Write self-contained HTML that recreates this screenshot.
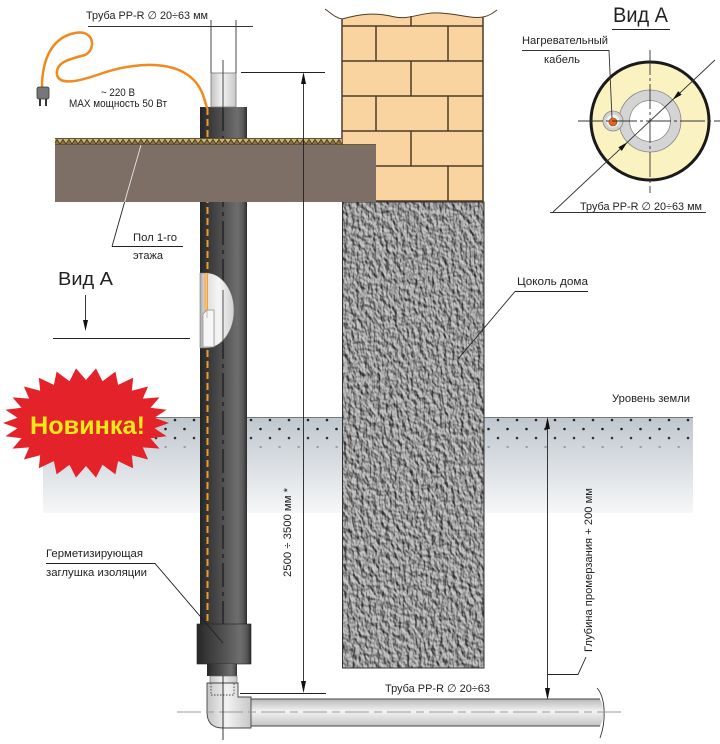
<!DOCTYPE html>
<html><head><meta charset="utf-8"><style>
html,body{margin:0;padding:0;background:#fff;}
svg{display:block;}
text{font-family:"Liberation Sans","DejaVu Sans",sans-serif;fill:#222;}
</style></head><body>
<svg width="720" height="744" viewBox="0 0 720 744" xmlns="http://www.w3.org/2000/svg">
<defs>
<linearGradient id="gnd" x1="0" y1="417" x2="0" y2="513" gradientUnits="userSpaceOnUse">
<stop offset="0" stop-color="#bfc7ce"/><stop offset="0.55" stop-color="#dde1e5"/><stop offset="1" stop-color="#f6f7f8"/>
</linearGradient>
<linearGradient id="pg" x1="0" y1="0" x2="1" y2="0">
<stop offset="0" stop-color="#262626"/><stop offset="0.18" stop-color="#383838"/><stop offset="0.5" stop-color="#525252"/><stop offset="0.8" stop-color="#6e6e6e"/><stop offset="0.92" stop-color="#585858"/><stop offset="1" stop-color="#2c2c2c"/>
</linearGradient>
<linearGradient id="lp" x1="0" y1="0" x2="1" y2="0">
<stop offset="0" stop-color="#c4c4c4"/><stop offset="0.45" stop-color="#f2f2f2"/><stop offset="1" stop-color="#c8c8c8"/>
</linearGradient>
<linearGradient id="hp" x1="0" y1="0" x2="0" y2="1">
<stop offset="0" stop-color="#b8b8b8"/><stop offset="0.45" stop-color="#f3f3f3"/><stop offset="1" stop-color="#c4c4c4"/>
</linearGradient>
<linearGradient id="cut" x1="0" y1="0" x2="1" y2="0">
<stop offset="0" stop-color="#a8a8a8"/><stop offset="0.15" stop-color="#dcdcdc"/><stop offset="0.55" stop-color="#f6f6f6"/><stop offset="1" stop-color="#cfcfcf"/>
</linearGradient>
<pattern id="dots" x="0" y="415" width="19" height="36" patternUnits="userSpaceOnUse">
<circle cx="4" cy="5" r="1.3" fill="#222"/>
<circle cx="13.5" cy="14" r="1.3" fill="#222"/>
<circle cx="4" cy="23" r="1.3" fill="#333"/>
<rect x="12.5" y="31.5" width="2.2" height="1" fill="#666"/>
</pattern>
<pattern id="hatch" x="0" y="138" width="6" height="7" patternUnits="userSpaceOnUse">
<rect width="6" height="7" fill="#cdb372"/>
<path d="M0,6 L3,1.5 L6,6" fill="#8a7440" stroke="#3d3020" stroke-width="0.8"/>
</pattern>
<filter id="rough" filterUnits="userSpaceOnUse" x="342" y="202" width="142" height="466" color-interpolation-filters="sRGB">
<feTurbulence type="fractalNoise" baseFrequency="0.24 0.16" numOctaves="2" seed="7"/>
<feDiffuseLighting surfaceScale="2.5" diffuseConstant="1" lighting-color="#ffffff"><feDistantLight azimuth="135" elevation="45"/></feDiffuseLighting>
<feComponentTransfer><feFuncR type="linear" slope="0.62" intercept="0.18"/><feFuncG type="linear" slope="0.62" intercept="0.18"/><feFuncB type="linear" slope="0.62" intercept="0.18"/></feComponentTransfer>
</filter>
</defs>

<rect width="720" height="744" fill="#fff"/>

<!-- ground -->
<rect x="43" y="417" width="650" height="96" fill="url(#gnd)"/>
<rect x="43" y="417" width="650" height="35" fill="url(#dots)"/>
<line x1="43" y1="417.5" x2="693" y2="417.5" stroke="#777" stroke-width="1"/>

<!-- plinth -->
<rect x="342" y="202" width="142" height="466" fill="#999" filter="url(#rough)"/>
<rect x="342.5" y="202" width="141.5" height="466" fill="none" stroke="#333" stroke-width="1"/>

<!-- brick wall -->
<path d="M342,19 C360,14 375,12 395,17 C410,20 420,12 440,13 C460,14 470,19 483,17 L483,201 L342,201 Z" fill="#f9d3a0"/>
<g stroke="#4e3b26" stroke-width="1.5" fill="none">
<path d="M325,9 C332,14 336,18 342,19 C360,14 375,12 395,17 C410,20 420,12 440,13 C460,14 470,19 483,17 C489,16 493,13 497,10" stroke-width="1"/>
<line x1="342" y1="26" x2="483" y2="26"/><line x1="342" y1="61" x2="483" y2="61"/><line x1="342" y1="96" x2="483" y2="96"/><line x1="342" y1="131" x2="483" y2="131"/><line x1="342" y1="166" x2="483" y2="166"/><line x1="342" y1="201" x2="483" y2="201"/>
<line x1="411" y1="16" x2="411" y2="26"/>
<line x1="376" y1="26" x2="376" y2="61"/><line x1="448" y1="26" x2="448" y2="61"/>
<line x1="411" y1="61" x2="411" y2="96"/>
<line x1="376" y1="96" x2="376" y2="131"/><line x1="448" y1="96" x2="448" y2="131"/>
<line x1="411" y1="131" x2="411" y2="166"/>
<line x1="448" y1="166" x2="448" y2="201"/>
<line x1="342" y1="19" x2="342" y2="145"/><line x1="483" y1="17" x2="483" y2="202"/>
</g>

<!-- insulated pipe -->
<rect x="200" y="107" width="47" height="518" fill="url(#pg)"/>
<line x1="207.5" y1="108" x2="207.5" y2="624" stroke="#f39a2c" stroke-width="2" stroke-dasharray="7 4"/>
<line x1="223" y1="107" x2="223" y2="624" stroke="#1a1a1a" stroke-width="1.2" stroke-dasharray="24 5 4 5"/>

<!-- slab + floor -->
<rect x="55" y="145" width="321" height="57" fill="#7d6e66"/>
<rect x="55" y="138" width="287" height="7" fill="url(#hatch)"/>
<line x1="55" y1="138.5" x2="342" y2="138.5" stroke="#3d3020" stroke-width="0.8"/>
<line x1="55" y1="144.5" x2="376" y2="144.5" stroke="#3d3020" stroke-width="0.8"/>

<!-- inner pipe top -->
<rect x="211" y="73" width="25" height="34" fill="url(#lp)" stroke="#777" stroke-width="0.8"/>
<line x1="223" y1="60" x2="223" y2="107" stroke="#333" stroke-width="0.9"/>
<line x1="211" y1="20" x2="211" y2="73" stroke="#333" stroke-width="0.9"/>
<line x1="236" y1="20" x2="236" y2="73" stroke="#333" stroke-width="0.9"/>
<line x1="88" y1="26.5" x2="253" y2="26.5" stroke="#333" stroke-width="0.9"/>

<!-- cable -->
<path d="M42,88 C42,62 50,38 75,33 C95,29 96,50 85,55 C70,59 55,62 57,75 C60,86 80,81 100,74 C140,60 192,58 204,98 L207,108" fill="none" stroke="#f08a1c" stroke-width="2.5"/>
<rect x="37" y="87" width="12" height="12" rx="2" fill="#777" stroke="#333" stroke-width="0.8"/>
<rect x="39" y="99" width="2" height="7" fill="#333"/><rect x="45" y="99" width="2" height="7" fill="#333"/>

<!-- cutaway -->
<path d="M200,273 L206,273 A28,37.5 0 0 1 206,348 L200,348 Z" fill="url(#cut)" stroke="#777" stroke-width="0.6"/>
<rect x="204.5" y="273" width="3.5" height="42" fill="#f0a040"/>
<rect x="205.5" y="273" width="1.2" height="42" fill="#ffd08a"/>
<path d="M203,347 L203,314 L207,310 L214,310 L214,347 Z" fill="#f6f6f6" stroke="#888" stroke-width="0.7"/>
<path d="M207,310 L207,318" stroke="#999" stroke-width="0.6"/>
<line x1="223" y1="290" x2="223" y2="342" stroke="#444" stroke-width="0.9"/>

<!-- bottom fittings -->
<rect x="197" y="624" width="54" height="40" fill="url(#pg)" stroke="#222" stroke-width="0.6"/>
<rect x="207" y="664" width="30" height="12" fill="url(#pg)"/>
<rect x="210" y="676" width="27" height="8" fill="url(#lp)" stroke="#666" stroke-width="0.6"/>
<path d="M251,699 L600,699 C604,706 605,718 600,726 L251,726 Z" fill="url(#hp)"/>
<line x1="251" y1="699" x2="600" y2="699" stroke="#444" stroke-width="1"/>
<line x1="251" y1="726" x2="600" y2="726" stroke="#444" stroke-width="1"/>
<path d="M597,688 C606,698 606,722 600,738" fill="none" stroke="#333" stroke-width="0.9"/>
<path d="M207,683 L238,683 L238,697 L251,697 L251,728 L223,728 Q207,728 207,712 Z" fill="url(#lp)" stroke="#444" stroke-width="0.9"/>
<path d="M211,683 L211,695 L234,695 L234,683" fill="none" stroke="#444" stroke-width="0.9" stroke-dasharray="1.5 1.5"/>
<line x1="177" y1="712" x2="625" y2="712" stroke="#999" stroke-width="1" stroke-dasharray="24 5 8 5"/>
<line x1="223" y1="676" x2="223" y2="740" stroke="#222" stroke-width="0.9"/>

<!-- dimension lines -->
<g stroke="#222" stroke-width="0.9" fill="none">
<line x1="241" y1="72.5" x2="325" y2="72.5"/>
<line x1="240" y1="693.5" x2="326" y2="693.5"/>
<line x1="303.5" y1="80" x2="303.5" y2="685"/>
<line x1="547.5" y1="425" x2="547.5" y2="692"/>
<path d="M547.5,674.5 L578,674.5 L586,657"/>
<path d="M112,246.5 L183,246.5"/>
<line x1="112" y1="246.5" x2="124.6" y2="202"/>
<line x1="124.6" y1="202" x2="141" y2="145" stroke="#e6e6e6"/>
<path d="M46,563.5 L155,563.5 L223,643"/>
<path d="M515,291.5 L588,291.5"/>
<line x1="515" y1="291.5" x2="458" y2="359"/>
<line x1="85.5" y1="295" x2="85.5" y2="322"/>
<line x1="53" y1="338.5" x2="190" y2="338.5"/>
</g>
<g fill="#111">
<polygon points="303.5,72 301,84 306,84"/>
<polygon points="303.5,693 301,681 306,681"/>
<polygon points="547.5,417 545,429 550,429"/>
<polygon points="547.5,700 545,688 550,688"/>
<polygon points="85.5,331 83,320 88,320"/>
</g>

<!-- labels -->
<text x="86" y="19" font-size="11" textLength="122" lengthAdjust="spacingAndGlyphs">Труба PP-R ∅ 20÷63 мм</text>
<text x="101" y="96" font-size="11" textLength="34" lengthAdjust="spacingAndGlyphs">~ 220 В</text>
<text x="69" y="107" font-size="11" textLength="98" lengthAdjust="spacingAndGlyphs">MAX мощность 50 Вт</text>
<text x="133" y="241" font-size="11" textLength="44" lengthAdjust="spacingAndGlyphs">Пол 1-го</text>
<text x="133" y="259" font-size="11" textLength="30" lengthAdjust="spacingAndGlyphs">этажа</text>
<text x="58" y="285" font-size="18" textLength="55" lengthAdjust="spacingAndGlyphs">Вид А</text>
<text x="46" y="557" font-size="11" textLength="97" lengthAdjust="spacingAndGlyphs">Герметизирующая</text>
<text x="46" y="576" font-size="11" textLength="101" lengthAdjust="spacingAndGlyphs">заглушка изоляции</text>
<text transform="translate(291,577) rotate(-90)" font-size="11" textLength="89" lengthAdjust="spacingAndGlyphs">2500 ÷ 3500 мм *</text>
<text x="385" y="692" font-size="11" textLength="105" lengthAdjust="spacingAndGlyphs">Труба PP-R ∅ 20÷63</text>
<text transform="translate(592,652) rotate(-90)" font-size="11" textLength="164" lengthAdjust="spacingAndGlyphs">Глубина промерзания + 200 мм</text>
<text x="517" y="285" font-size="11" textLength="71" lengthAdjust="spacingAndGlyphs">Цоколь дома</text>
<text x="612" y="402" font-size="11" textLength="78" lengthAdjust="spacingAndGlyphs">Уровень земли</text>

<!-- starburst -->
<polygon fill="#e3222a" points="169,423 154.5,428.2 166.6,436.2 150.5,438.2 159.5,448.6 142.8,447.4 148.1,459.5 131.8,455.2 133.2,468.3 118.1,461.1 115.4,474.4 102.5,464.7 96,477.6 86,466 76,477.6 69.5,464.7 56.6,474.4 53.9,461.1 38.8,468.3 40.2,455.2 23.9,459.5 29.2,447.4 12.5,448.6 21.5,438.2 5.4,436.2 17.5,428.2 3,423 17.5,417.8 5.4,409.8 21.5,407.8 12.5,397.4 29.2,398.6 23.9,386.5 40.2,390.8 38.8,377.7 53.9,384.9 56.6,371.6 69.5,381.3 76,368.4 86,380 96,368.4 102.5,381.3 115.4,371.6 118.1,384.9 133.2,377.7 131.8,390.8 148.1,386.5 142.8,398.6 159.5,397.4 150.5,407.8 166.6,409.8 154.5,417.8"/>
<text x="30" y="434" font-size="25" font-weight="bold" style="fill:#f7e81a" textLength="115" lengthAdjust="spacingAndGlyphs">Новинка!</text>

<!-- view A -->
<text x="613" y="22" font-size="21" textLength="55" lengthAdjust="spacingAndGlyphs">Вид А</text>
<line x1="612" y1="29.5" x2="670" y2="29.5" stroke="#222" stroke-width="1"/>
<text x="522" y="44" font-size="11" textLength="86" lengthAdjust="spacingAndGlyphs">Нагревательный</text>
<text x="544" y="63" font-size="11" textLength="36" lengthAdjust="spacingAndGlyphs">кабель</text>
<circle cx="650" cy="121" r="59" fill="#fbf2c2" stroke="#1a1a1a" stroke-width="3"/>
<circle cx="650" cy="121" r="31" fill="#d4d4d4" stroke="#888" stroke-width="0.8"/>
<circle cx="650" cy="121" r="20.5" fill="#fff" stroke="#888" stroke-width="0.8"/>
<circle cx="613" cy="121" r="10" fill="#d2d2d2" stroke="#888" stroke-width="0.8"/>
<circle cx="613" cy="121" r="6.5" fill="#f2f2f2"/>
<circle cx="613" cy="122" r="4" fill="#e8661a" stroke="#7a3a10" stroke-width="0.6"/>
<g stroke="#333" stroke-width="0.9" fill="none">
<line x1="578" y1="121" x2="720" y2="121" stroke-dasharray="25 3 3 3"/>
<line x1="650" y1="50" x2="650" y2="193" stroke-dasharray="25 3 3 3"/>
<path d="M522,50.5 L609,50.5 L612,118"/>
<line x1="553" y1="212" x2="715" y2="60"/>
<line x1="550" y1="212.5" x2="706" y2="212.5"/>
</g>
<polygon points="672.6,99.8 681.6,94.7 678.2,91.1" fill="#111"/>
<polygon points="627.4,142.2 621.8,150.9 618.4,147.3" fill="#111"/>
<text x="580" y="210" font-size="11" textLength="122" lengthAdjust="spacingAndGlyphs">Труба PP-R ∅ 20÷63 мм</text>
</svg>
</body></html>
